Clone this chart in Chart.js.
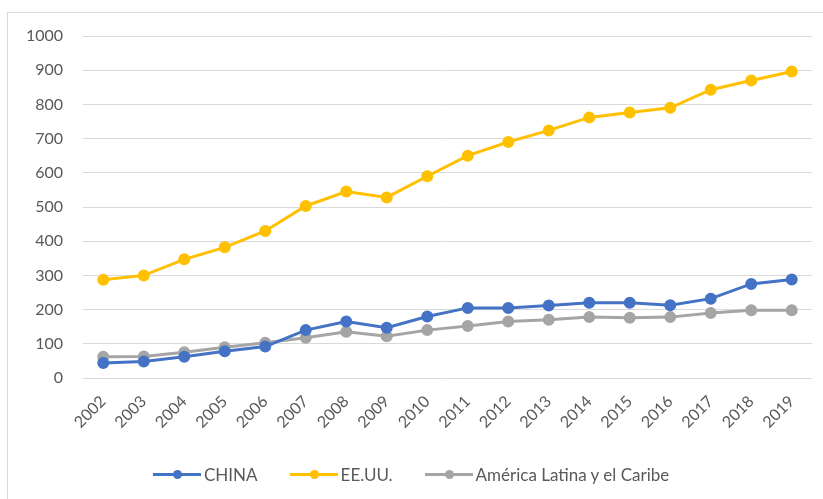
<!DOCTYPE html>
<html>
<head>
<meta charset="utf-8">
<script src="https://cdn.jsdelivr.net/npm/chart.js@4/dist/chart.umd.min.js"></script>
<style>
  html, body { margin: 0; padding: 0; background: #fff; }
  #marco { position: absolute; left: 7px; top: 12px; width: 830px; height: 500px; border: 1px solid #d9d9d9; }
  #lienzo { position: absolute; left: 0; top: 0; width: 823px; height: 499px; }
  #leyenda { position: absolute; left: 153px; top: 464px; display: flex; align-items: center; gap: 32px;
    font-family: Lato, "Open Sans", sans-serif; font-size: 17px; color: #595959; white-space: nowrap; }
  .item { display: flex; align-items: center; }
  .simbolo { position: relative; width: 48px; height: 3px; margin-right: 3px; }
  .simbolo::after { content: ""; position: absolute; left: 20px; top: -3px; width: 9px; height: 9px;
    border-radius: 50%; background: inherit; }
</style>
</head>
<body>
<div id="marco"></div>
<div id="lienzo"><canvas id="grafico"></canvas></div>
<div id="leyenda"></div>
<script>
// ================= DATOS =================
const anios = ["2002","2003","2004","2005","2006","2007","2008","2009","2010",
  "2011","2012","2013","2014","2015","2016","2017","2018","2019"];
const china = [44, 48, 62, 78, 92, 140, 165, 147, 180, 205, 205, 212, 220, 220, 213, 232, 275, 288];
const eeuu = [287, 300, 347, 382, 430, 503, 545, 528, 590, 650, 690, 724, 762, 776, 790, 843, 870, 896];
const latam = [62, 63, 75, 90, 103, 118, 135, 122, 140, 152, 165, 170, 178, 176, 178, 190, 198, 198];
const ticksY = [0, 100, 200, 300, 400, 500, 600, 700, 800, 900, 1000];

const colores = { china: "#4472C4", eeuu: "#FFC000", latam: "#A5A5A5" };
const textoGris = "#595959";

function serie(label, data, color) {
  return {
    label, data,
    borderColor: color,
    backgroundColor: color,
    borderWidth: 3,
    pointRadius: 4.5,
    pointBackgroundColor: color,
    pointBorderColor: color,
    tension: 0
  };
}

Chart.defaults.font.family = "Lato, 'Open Sans', sans-serif";
Chart.defaults.color = textoGris;

const grafico = new Chart(document.getElementById("grafico"), {
  type: "line",
  data: {
    labels: anios,
    datasets: [
      serie("CHINA", china, colores.china),
      serie("EE.UU.", eeuu, colores.eeuu),
      serie("América Latina y el Caribe", latam, colores.latam)
    ]
  },
  options: {
    responsive: true,
    maintainAspectRatio: false,
    animation: false,
    layout: { padding: { top: 36, right: 11, bottom: 61, left: 0 } },
    scales: {
      x: {
        offset: true,
        grid: { display: false, drawTicks: false },
        border: { display: false },
        ticks: { font: { size: 16 }, color: textoGris, minRotation: 45, maxRotation: 45, padding: 14 },
        afterFit: s => { s.height = 60; }
      },
      y: {
        min: 0, max: 1000,
        afterBuildTicks: s => { s.ticks = ticksY.map(v => ({ value: v })); },
        grid: { color: "#d9d9d9", lineWidth: 1, drawTicks: false },
        border: { display: false },
        ticks: { font: { size: 16 }, color: textoGris, padding: 20, callback: v => String(v) },
        afterFit: s => { s.width = 83; }
      }
    },
    plugins: {
      tooltip: { enabled: false },
      legend: { display: false }
    }
  }
});

// ================= LEYENDA =================
document.getElementById("leyenda").innerHTML = grafico.data.datasets.map(d => `
  <div class="item">
    <span class="simbolo" style="background:${d.borderColor}"></span>
    <span>${d.label}</span>
  </div>`).join("");
</script>
</body>
</html>
